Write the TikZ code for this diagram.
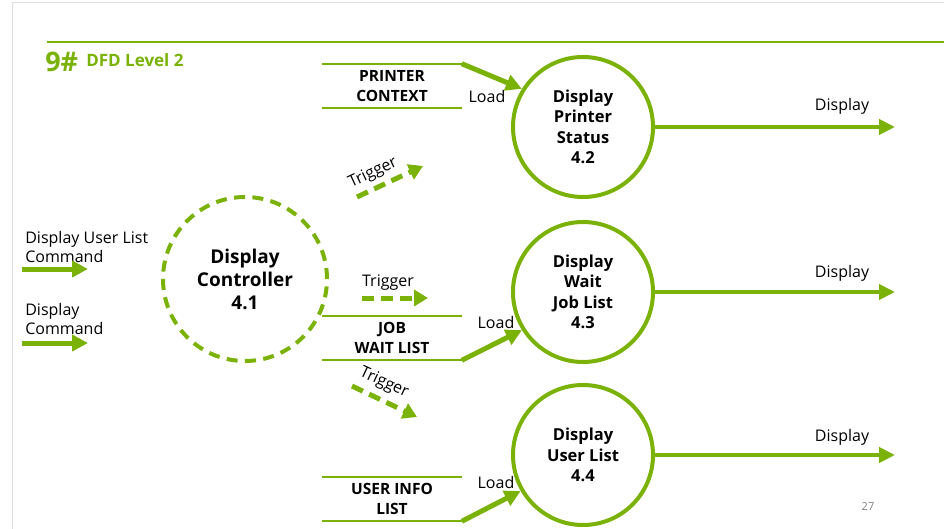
\documentclass[tikz,border=0pt]{standalone}
\usepackage{fontspec}
\setmainfont{Open Sans}
\usetikzlibrary{arrows.meta}
\definecolor{dfdgreen}{RGB}{122,178,8}

\begin{document}
\begin{tikzpicture}[x=1pt, y=-1pt,
    semithick,
    process/.style={circle, draw=dfdgreen, line width=4pt, minimum size=140pt,
      inner sep=0pt, align=center, font=\fontsize{16.5}{20.5}\selectfont\bfseries},
    control/.style={circle, draw=dfdgreen, line width=4pt,
      dash pattern=on 11pt off 7.4pt, minimum size=164pt, inner sep=0pt,
      align=center, font=\fontsize{19}{23}\selectfont\bfseries},
    store/.style={rectangle, minimum width=139pt, minimum height=44pt,
      inner sep=0pt, align=center, font=\fontsize{15.5}{19.5}\selectfont\bfseries},
    flowtext/.style={inner sep=0pt, align=left, font=\fontsize{16}{19}\selectfont},
    storeline/.style={draw=dfdgreen, line width=2pt},
    flow/.style={dfdgreen, line width=4pt, -{Triangle[length=16pt,width=15pt]}},
    loadflow/.style={dfdgreen, line width=5pt, -{Triangle[length=16pt,width=16pt]}},
    trigflow/.style={dfdgreen, line width=5pt, dash pattern=on 12pt off 7pt,
      -{Triangle[length=14pt,width=16pt]}}
    ]

\useasboundingbox (0,0) rectangle (944,529);
\draw[gray!25, line width=1pt] (12,529) -- (12,3) -- (944,3);
\draw[dfdgreen, line width=2pt] (47,42) -- (944,42);
\node[anchor=base west, inner sep=0pt, text=dfdgreen,
  font=\fontsize{27}{30}\selectfont\bfseries] (num) at (45,72) {9\#};
\node[anchor=base west, inner sep=0pt, text=dfdgreen,
  font=\fontsize{17}{20}\selectfont\bfseries] (ttl) at (86,67) {DFD Level 2};

\node[control] (C41) at (245,279) {Display\\Controller\\4.1};
\node[process] (P42) at (583,127) {Display\\Printer\\Status\\4.2};
\node[process] (W43) at (583,292) {Display\\Wait\\Job List\\4.3};
\node[process] (U44) at (583,455) {Display\\User List\\4.4};

\node[store] (PC) at (392,86) {PRINTER\\CONTEXT};
\node[store] (JW) at (392,338) {JOB\\WAIT LIST};
\node[store] (UI) at (392,499) {USER INFO\\LIST};
\foreach \s in {PC,JW,UI} {
  \draw[storeline] (\s.north west) -- (\s.north east);
  \draw[storeline] (\s.south west) -- (\s.south east);
}

\node[flowtext, anchor=west] (in1) at (25,247) {Display User List\\Command};
\node[flowtext, anchor=west] (in2) at (25,319) {Display\\Command};
\coordinate (in1s) at (22,269);
\coordinate (in1e) at (88,269);
\coordinate (in2s) at (22,343);
\coordinate (in2e) at (88,343);
\draw[loadflow] (in1s) -- (in1e);
\draw[loadflow] (in2s) -- (in2e);

\draw[loadflow] (PC.north east) -- (P42.148);
\draw[loadflow] (JW.south east) -- (W43.212);
\draw[loadflow] (UI.south east) -- (U44.210);
\node[flowtext] (ld1) at (487,97) {Load};
\node[flowtext] (ld2) at (496,322) {Load};
\node[flowtext] (ld3) at (496,482) {Load};

\coordinate (tg1s) at (357,197);
\coordinate (tg1e) at (423,166);
\coordinate (tg2s) at (362,298);
\coordinate (tg2e) at (428,298);
\coordinate (tg3s) at (352,386);
\coordinate (tg3e) at (417,417);
\draw[trigflow] (tg1s) -- (tg1e);
\draw[trigflow] (tg2s) -- (tg2e);
\draw[trigflow] (tg3s) -- (tg3e);
\node[flowtext, rotate=25] (tl1) at (373,173) {Trigger};
\node[flowtext] (tl2) at (388,283) {Trigger};
\node[flowtext, rotate=-25] (tl3) at (384,383) {Trigger};

\coordinate (o42) at (895,127);
\coordinate (o43) at (895,292);
\coordinate (o44) at (895,455);
\draw[flow] (P42.east) -- (o42);
\draw[flow] (W43.east) -- (o43);
\draw[flow] (U44.east) -- (o44);
\node[flowtext] (d42) at (842,106) {Display};
\node[flowtext] (d43) at (842,273) {Display};
\node[flowtext] (d44) at (842,437) {Display};

\node[inner sep=0pt, text=gray, font=\fontsize{11}{13}\selectfont] (pg) at (868,507) {27};
\end{tikzpicture}
\end{document}
